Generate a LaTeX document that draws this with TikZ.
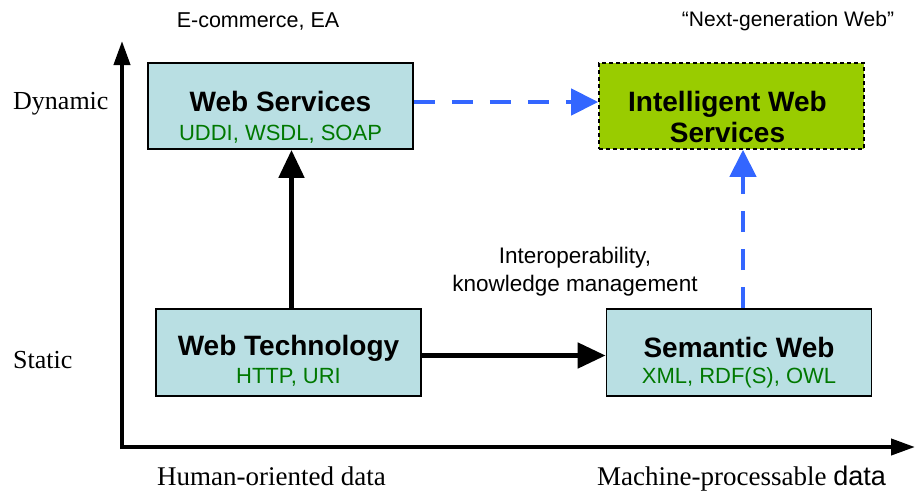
\documentclass[tikz,border=0pt]{standalone}
\usepackage{fontspec}
\setmainfont{Liberation Serif}
\setsansfont{Liberation Sans}
\usetikzlibrary{arrows.meta,calc}

\definecolor{boxfill}{RGB}{185,223,227}
\definecolor{protogreen}{RGB}{0,120,0}
\definecolor{nextgreen}{RGB}{153,204,0}
\definecolor{linkblue}{RGB}{51,102,255}

\tikzset{
  box/.style={draw=black, line width=1.8pt, fill=boxfill,
    minimum width=265pt, minimum height=86pt, inner sep=0pt},
  nextbox/.style={box, fill=nextgreen, dash pattern=on 4pt off 3pt, line width=1.6pt},
  title/.style={font=\sffamily\bfseries\fontsize{28}{30}\selectfont, anchor=base, inner sep=0pt},
  proto/.style={font=\sffamily\fontsize{22}{24}\selectfont, text=protogreen, anchor=base, inner sep=0pt},
  note/.style={font=\sffamily\fontsize{21.5}{27}\selectfont, inner sep=0pt, align=center},
  axislabel/.style={font=\fontsize{26}{28}\selectfont, anchor=base west, inner sep=0pt},
  axis/.style={line width=4pt, -{Triangle[length=24pt,width=16pt]}},
  solidlink/.style={line width=5pt, -{Triangle[length=28pt,width=25pt]}},
  dashlink/.style={line width=4.5pt, draw=linkblue, dash pattern=on 21pt off 17pt,
    -{Triangle[length=27pt,width=26pt,fill=linkblue]}},
}

\begin{document}
\begin{tikzpicture}[x=1pt,y=-1pt]
\useasboundingbox (0,0) rectangle (915,493);

% axes
\coordinate (origin) at (122,449);
\coordinate (ytop) at (122,41);
\coordinate (xstart) at (120,447);
\coordinate (xend) at (915,447);
\draw[axis] (origin) -- (ytop);
\draw[axis] (xstart) -- (xend);

% axis labels
\node[axislabel] (dyn) at (13,109) {Dynamic};
\node[axislabel] (stat) at (13,368) {Static};
\node[axislabel, font=\fontsize{27}{28}\selectfont] (human) at (157,485) {Human-oriented data};
\node[axislabel, font=\fontsize{27}{28}\selectfont] (machine) at (597,485) {Machine-processable {\sffamily data}};

% boxes
\node[box] (ws) at (280.5,106) {};
\node[title] (wst) at ($(ws.center)+(0,5)$) {Web Services};
\node[proto] (wsp) at ($(ws.center)+(0,34)$) {UDDI, WSDL, SOAP};

\node[nextbox] (iws) at (731.5,106) {};
\node[title] (iwst) at ($(iws.center)+(-4,5)$) {Intelligent Web};
\node[title] (iwss) at ($(iws.center)+(-4,36)$) {Services};

\node[box, minimum height=87pt] (wt) at (288.5,352.5) {};
\node[title] (wtt) at ($(wt.center)+(0,3)$) {Web Technology};
\node[proto] (wtp) at ($(wt.center)+(0,31)$) {HTTP, URI};

\node[box, minimum height=87pt] (sw) at (739,352.5) {};
\node[title] (swt) at ($(sw.center)+(0,4.5)$) {Semantic Web};
\node[proto] (swp) at ($(sw.center)+(0,31)$) {XML, RDF(S), OWL};

% notes
\node[note] (ecom) at (258,21) {E-commerce,\ EA};
\node[note, font=\sffamily\fontsize{21}{27}\selectfont] (nextgen) at (788,21) {“Next-generation Web”};
\node[note, font=\sffamily\fontsize{22.5}{28}\selectfont] (interop) at (575,272) {Interoperability,\\knowledge management};

% connectors
\draw[solidlink] ([xshift=3pt]wt.north) -- ([xshift=3pt]wt.north |- ws.south);
\draw[solidlink] ([yshift=-3pt]wt.east) -- ([yshift=-3pt]wt.east -| sw.west);
\draw[dashlink] ([yshift=4pt]ws.east) -- ([yshift=4pt]ws.east -| iws.west);
\draw[dashlink] ([xshift=4pt]sw.north) -- ([xshift=4pt]sw.north |- iws.south);
\end{tikzpicture}
\end{document}
